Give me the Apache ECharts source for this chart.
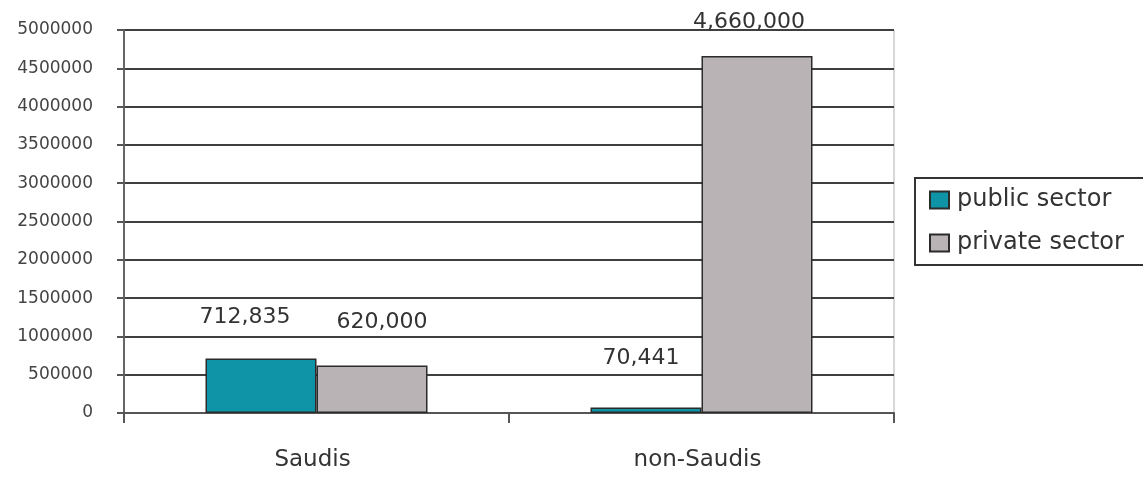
<!DOCTYPE html>
<html>
<head>
<meta charset="utf-8">
<script src="https://cdn.jsdelivr.net/npm/echarts@6/dist/echarts.min.js"></script>
<style>
  html, body { margin: 0; padding: 0; background: #fff; }
  #chart { width: 1143px; height: 477px; }
</style>
</head>
<body>
<div id="chart"></div>
<script>
const categories = ['Saudis', 'non-Saudis']
const seriesNames = ['public sector', 'private sector']
const publicSector = [712835, 70441]
const privateSector = [620000, 4660000]

const colors = ['#0f93a7', '#b9b3b6']
// small nudges so labels sit where the original put them
const labelShift = [
  [[-16, -14], [-5, -22]],
  [[10, -16], [-8, -7]]
]

const chart = echarts.init(document.getElementById('chart'))

const makeSeries = (name, values, idx) => ({
  name,
  type: 'bar',
  barWidth: 111,
  barGap: '0%',
  data: values.map((v, i) => ({
    value: v,
    label: { offset: labelShift[idx][i] }
  })),
  itemStyle: {
    color: colors[idx],
    borderColor: '#2b2b2b',
    borderWidth: 1.5
  },
  label: {
    show: true,
    position: 'top',
    distance: 16,
    fontFamily: 'DejaVu Sans',
    fontSize: 22,
    color: '#333',
    formatter: (p) => p.value.toLocaleString('en-US')
  }
})

chart.setOption({
  animation: false,
  backgroundColor: '#fff',
  grid: {
    left: 124,
    right: 249,
    top: 30,
    bottom: 64,
    show: true,
    borderColor: '#b0b0b0',
    borderWidth: 1
  },
  legend: {
    orient: 'vertical',
    left: 915,
    top: 178,
    data: seriesNames,
    icon: 'rect',
    itemWidth: 19,
    itemHeight: 17,
    itemGap: 19,
    padding: [10, 40, 10, 14],
    borderColor: '#333',
    borderWidth: 2,
    backgroundColor: '#fff',
    textStyle: {
      fontFamily: 'DejaVu Sans',
      fontSize: 24,
      lineHeight: 24,
      color: '#333',
      padding: [0, 0, 0, 3]
    }
  },
  xAxis: {
    type: 'category',
    data: categories,
    axisLine: { lineStyle: { color: '#555', width: 2 } },
    axisTick: { show: true, length: 10, lineStyle: { color: '#555', width: 2 } },
    axisLabel: {
      margin: 36,
      fontFamily: 'DejaVu Sans',
      fontSize: 23,
      color: '#333',
      padding: [0, 8, 0, 0]
    }
  },
  yAxis: {
    type: 'value',
    min: 0,
    max: 5000000,
    interval: 500000,
    axisLine: { show: true, lineStyle: { color: '#666', width: 2 } },
    axisTick: { show: true, length: 7, lineStyle: { color: '#555', width: 2 } },
    splitLine: { lineStyle: { color: '#3f3f3f', width: 2 } },
    axisLabel: {
      margin: 31,
      fontFamily: 'DejaVu Sans',
      fontSize: 17,
      color: '#444',
      formatter: (v) => String(v)
    }
  },
  series: [
    makeSeries(seriesNames[0], publicSector, 0),
    makeSeries(seriesNames[1], privateSector, 1)
  ]
})
</script>
</body>
</html>
